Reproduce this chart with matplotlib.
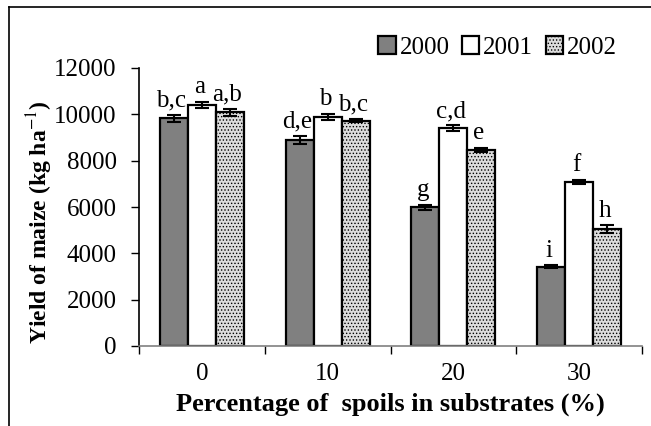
import numpy as np
import matplotlib.pyplot as plt
from matplotlib.lines import Line2D

# data
groups = ['0', '10', '20', '30']
years = ['2000', '2001', '2002']
y2000 = [9830, 8890, 5990, 3420]
y2001 = [10420, 9900, 9400, 7090]
y2002 = [10080, 9730, 8460, 5050]
err2000 = [140, 190, 110, 60]
err2001 = [130, 130, 120, 90]
err2002 = [150, 60, 90, 170]
letters2000 = ['b,c', 'd,e', 'g', 'i']
letters2001 = ['a', 'b', 'c,d', 'f']
letters2002 = ['a,b', 'b,c', 'e', 'h']

plt.rcParams['font.family'] = ['Liberation Serif', 'DejaVu Serif']
plt.rcParams['mathtext.fontset'] = 'stix'
plt.rcParams['hatch.color'] = '#9a9a9a'
plt.rcParams['hatch.linewidth'] = 0.6

fig = plt.figure(figsize=(6.51, 4.26), dpi=100)
ax = fig.add_axes([139/651, 1 - 346/426, (642 - 139)/651, (346 - 68)/426])

x = np.arange(len(groups))
w = 0.223
series = [
    (y2000, err2000, letters2000, dict(color='#808080', hatch=None)),
    (y2001, err2001, letters2001, dict(color='white', hatch=None)),
    (y2002, err2002, letters2002, dict(color='#dcdcdc', hatch='.....')),
]
for i, (vals, errs, labs, st) in enumerate(series):
    xs = x + (i - 1) * w
    ax.bar(xs, vals, w, color=st['color'], edgecolor='black', linewidth=1.6,
           hatch=st['hatch'], label=years[i], zorder=2)
    ax.errorbar(xs, vals, yerr=errs, fmt='none', ecolor='black', elinewidth=1.5,
                capsize=5, capthick=1.5, zorder=3)
    for xi, v, e, t in zip(xs, vals, errs, labs):
        ax.text(xi - 0.02, v + e + 150, t, ha='center', va='bottom', fontsize=18)

ax.set_xlim(-0.5, 3.5)
ax.set_ylim(0, 12000)
ax.set_yticks(np.arange(0, 12001, 2000))
ax.set_xticks(x)
ax.set_xticklabels(groups)
ax.set_xticks(np.arange(-0.5, 3.6, 1), minor=True)
ax.tick_params(axis='x', which='major', length=0, labelsize=18, pad=12)
ax.tick_params(axis='x', which='minor', length=6, width=1, color='black', direction='out')
ax.tick_params(axis='y', length=6, width=1, labelsize=18, pad=10)
for s in ['top', 'right']:
    ax.spines[s].set_visible(False)
ax.spines['left'].set_linewidth(1.2)
ax.spines['bottom'].set_color('#808080')
ax.spines['bottom'].set_linewidth(1.2)

ax.set_xlabel('Percentage of  spoils in substrates (%)', fontsize=19, fontweight='bold', labelpad=6)
fig.text(40/651, 1 - 222/426, 'Yield of maize (kg ha$^{-1}$)', rotation=90,
         ha='center', va='center', fontsize=17, fontweight='bold')

leg = ax.legend(loc='upper right', bbox_to_anchor=(0.97, 1.15), ncol=3, frameon=False,
                fontsize=18, handlelength=0.7, handleheight=0.7, handletextpad=0.15,
                columnspacing=0.5, borderaxespad=0)

# outer frame of the figure
fig.add_artist(Line2D([8.5/651, 8.5/651], [0, 1 - 7/426], transform=fig.transFigure,
                      color='black', linewidth=1.2))
fig.add_artist(Line2D([8.5/651, 1], [1 - 7/426, 1 - 7/426], transform=fig.transFigure,
                      color='black', linewidth=1.2))

fig.savefig('out.png', dpi=100)
